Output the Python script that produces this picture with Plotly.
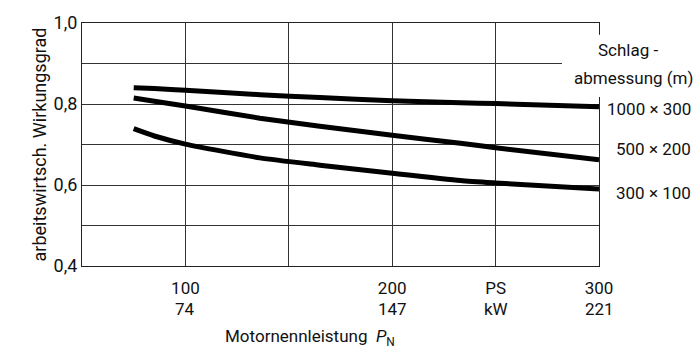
import plotly.graph_objects as go

# Data (Motornennleistung in PS)
x_ps = [75, 85, 100, 136, 165, 200, 233, 250, 300]
eta_1000x300 = [0.840, 0.838, 0.834, 0.823, 0.816, 0.808, 0.803, 0.801, 0.793]
eta_500x200 = [0.815, 0.807, 0.795, 0.765, 0.745, 0.723, 0.703, 0.692, 0.662]
eta_300x100 = [0.739, 0.721, 0.701, 0.667, 0.649, 0.629, 0.611, 0.605, 0.590]

series_labels = ["1000 × 300", "500 × 200", "300 × 100"]
x_tickvals = [100, 200, 250, 300]
x_ticktext_ps = ["100", "200", "PS", "300"]
x_ticktext_kw = ["74", "147", "kW", "221"]
x_minor_grid = [150]
y_tickvals = [0.4, 0.6, 0.8, 1.0]
y_ticktext = ["0,4", "0,6", "0,8", "1,0"]
y_minor_grid = [0.5, 0.7, 0.9]

FONT = "Roboto, Liberation Sans, sans-serif"
FS = 17

fig = go.Figure()
for ys in [eta_1000x300, eta_500x200, eta_300x100]:
    fig.add_trace(go.Scatter(x=x_ps, y=ys, mode="lines",
                             line=dict(color="black", width=5, shape="spline", smoothing=0.6),
                             showlegend=False, hoverinfo="skip"))

fig.update_layout(
    width=698, height=352,
    margin=dict(l=82, r=99, t=20, b=86),
    paper_bgcolor="white", plot_bgcolor="white",
    font=dict(family=FONT, color="#111", size=FS),
    xaxis=dict(range=[50, 300], tickvals=x_tickvals, ticktext=x_ticktext_ps,
               showgrid=True, gridcolor="#333", gridwidth=1,
               minor=dict(tickvals=x_minor_grid, showgrid=True, gridcolor="#333", gridwidth=1, ticks=""),
               showline=True, linecolor="#222", linewidth=1.2, mirror=True,
               ticks="", zeroline=False, tickfont=dict(size=FS), ticklabelstandoff=6),
    yaxis=dict(range=[0.4, 1.0], tickvals=y_tickvals, ticktext=y_ticktext,
               showgrid=True, gridcolor="#333", gridwidth=1,
               minor=dict(tickvals=y_minor_grid, showgrid=True, gridcolor="#333", gridwidth=1, ticks=""),
               showline=True, linecolor="#222", linewidth=1.2, mirror=True,
               ticks="", zeroline=False, tickfont=dict(size=18),
               title=dict(text="arbeitswirtsch. Wirkungsgrad", font=dict(size=18), standoff=2)),
)

# white patch where the legend heading breaks the grid
fig.add_shape(type="rect", xref="paper", yref="paper",
              x0=(562 - 82) / 517, x1=1.2, y0=(266 - 95) / 246, y1=(266 - 32) / 246,
              fillcolor="white", line=dict(width=0), layer="above")

# kW row of x tick labels
for xv, t in zip(x_tickvals, x_ticktext_kw):
    fig.add_annotation(x=xv, y=-44 / 246, xref="x", yref="paper", text=t,
                       showarrow=False, font=dict(size=FS), xanchor="center", yanchor="middle")

fig.add_annotation(x=(310 - 82) / 517, y=-(338 - 266) / 246, xref="paper", yref="paper",
                   text="Motornennleistung  <i>P</i><sub>N</sub>", showarrow=False,
                   font=dict(size=FS), xanchor="center", yanchor="middle")

fig.add_annotation(x=(628 - 82) / 517, y=(266 - 47) / 246, xref="paper", yref="paper",
                   text="Schlag -", showarrow=False, font=dict(size=FS), xanchor="center", yanchor="middle")
fig.add_annotation(x=(695 - 82) / 517, y=(266 - 76) / 246, xref="paper", yref="paper",
                   text="abmessung (m)", showarrow=False, font=dict(size=FS), xanchor="right", yanchor="middle")

label_y_px = [107, 148, 192]
for lab, ypx in zip(series_labels, label_y_px):
    fig.add_annotation(x=(693 - 82) / 517, y=(266 - ypx) / 246, xref="paper", yref="paper",
                       text=lab, showarrow=False, font=dict(size=FS), xanchor="right", yanchor="middle")

fig.write_html("out.html")
